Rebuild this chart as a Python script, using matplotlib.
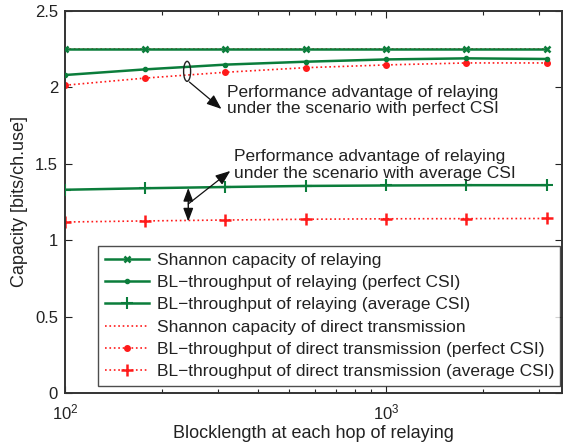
import matplotlib
matplotlib.use("Agg")
import matplotlib.pyplot as plt
from matplotlib.patches import Ellipse
from matplotlib.transforms import ScaledTranslation
from matplotlib.ticker import LogLocator, NullFormatter, FixedLocator

plt.rcParams['font.family'] = ['Liberation Sans', 'DejaVu Sans']

# Blocklength at each hop of relaying
blocklength = [100, 178, 316, 562, 1000, 1778, 3162]

shannon_relay = [2.25, 2.25, 2.25, 2.25, 2.25, 2.25, 2.25]
bl_relay_perfect = [2.081, 2.118, 2.149, 2.168, 2.183, 2.190, 2.186]
bl_relay_average = [1.330, 1.340, 1.348, 1.355, 1.358, 1.360, 1.360]
shannon_direct = [2.25, 2.25, 2.25, 2.25, 2.25, 2.25, 2.25]
bl_direct_perfect = [2.014, 2.061, 2.099, 2.129, 2.147, 2.160, 2.160]
bl_direct_average = [1.119, 1.126, 1.132, 1.137, 1.140, 1.141, 1.142]

labels = [
    "Shannon capacity of relaying",
    "BL\u2212throughput of relaying (perfect CSI)",
    "BL\u2212throughput of relaying (average CSI)",
    "Shannon capacity of direct transmission",
    "BL\u2212throughput of direct transmission (perfect CSI)",
    "BL\u2212throughput of direct transmission (average CSI)",
]

GREEN = '#0b7d3b'
RED = '#ff1a1a'
TXT = '#222222'

fig = plt.figure(figsize=(5.71, 4.45), dpi=100)
ax = fig.add_axes([0.1138, 0.1169, 0.8700, 0.8584])

ax.plot(blocklength, shannon_direct, ':', color=RED, lw=1.2, zorder=2)
h1, = ax.plot(blocklength, shannon_relay, '-', color=GREEN, lw=1.8,
              marker='x', ms=4.5, mew=1.8, zorder=3)
h2, = ax.plot(blocklength, bl_relay_perfect, '-', color=GREEN, lw=1.8,
              marker='.', ms=6, zorder=3)
h3, = ax.plot(blocklength, bl_relay_average, '-', color=GREEN, lw=1.8,
              marker='+', ms=9, mew=1.5, zorder=3)
h4, = ax.plot([], [], ':', color=RED, lw=1.2)
h5, = ax.plot(blocklength, bl_direct_perfect, ':', color=RED, lw=1.2,
              marker='.', ms=8, zorder=2)
h6, = ax.plot(blocklength, bl_direct_average, ':', color=RED, lw=1.2,
              marker='+', ms=9, mew=1.8, zorder=2)

ax.set_xscale('log')
ax.set_xlim(100, 3520)
ax.set_ylim(0, 2.5)
ax.set_yticks([0, 0.5, 1, 1.5, 2, 2.5])
ax.set_yticklabels(['0', '0.5', '1', '1.5', '2', '2.5'])
ax.xaxis.set_major_locator(FixedLocator([100, 1000]))
ax.xaxis.set_minor_locator(LogLocator(base=10, subs=range(2, 10)))
ax.xaxis.set_minor_formatter(NullFormatter())
ax.tick_params(which='both', direction='in', top=True, right=True,
               colors=TXT, labelsize=12, width=0.8)
ax.tick_params(which='major', length=5)
ax.tick_params(which='minor', length=3)
ax.tick_params(axis='x', pad=7)
ax.tick_params(axis='y', pad=5)
for s in ax.spines.values():
    s.set_color('#333333')
    s.set_linewidth(1.4)

ax.set_xlabel('Blocklength at each hop of relaying', fontsize=13, color=TXT, labelpad=2)
ax.set_ylabel('Capacity [bits/ch.use]', fontsize=13, color=TXT, labelpad=5)

leg = ax.legend([h1, h2, h3, h4, h5, h6], labels, loc='lower left',
                bbox_to_anchor=(0.067, 0.019, 0.93, 0.2), mode='expand',
                fontsize=12.5, frameon=True, fancybox=False, handlelength=2.55,
                handletextpad=0.45, labelspacing=0.4, borderpad=0.4,
                borderaxespad=0.0, labelcolor=TXT)
leg.get_frame().set_edgecolor('#222222')
leg.get_frame().set_linewidth(1.0)

# Perfect-CSI gap marker and note
el = Ellipse((0, 0), 0.07, 0.20, fill=False, ec='#222222', lw=1.0,
             transform=fig.dpi_scale_trans + ScaledTranslation(240, 2.105, ax.transData),
             zorder=5)
ax.add_patch(el)
ax.annotate('', xy=(307, 1.859), xytext=(244, 2.035),
            arrowprops=dict(arrowstyle='-|>,head_length=0.9,head_width=0.35',
                            color='#111111', lw=0.9, shrinkA=0, shrinkB=0))
ax.text(320, 1.914, 'Performance advantage of relaying\nunder the scenario with perfect CSI',
        ha='left', va='center', fontsize=12.5, color=TXT, linespacing=1.12)

# Average-CSI gap marker and note
ax.annotate('', xy=(242, 1.122), xytext=(242, 1.342),
            arrowprops=dict(arrowstyle='<|-|>,head_length=0.8,head_width=0.3',
                            color='#111111', lw=1.0, shrinkA=0, shrinkB=0))
ax.annotate('', xy=(327, 1.453), xytext=(242, 1.237),
            arrowprops=dict(arrowstyle='-|>,head_length=0.9,head_width=0.35',
                            color='#111111', lw=0.9, shrinkA=0, shrinkB=0))
ax.text(337, 1.492, 'Performance advantage of relaying\nunder the scenario with average CSI',
        ha='left', va='center', fontsize=12.5, color=TXT, linespacing=1.12)

fig.savefig('out.png', dpi=100)
